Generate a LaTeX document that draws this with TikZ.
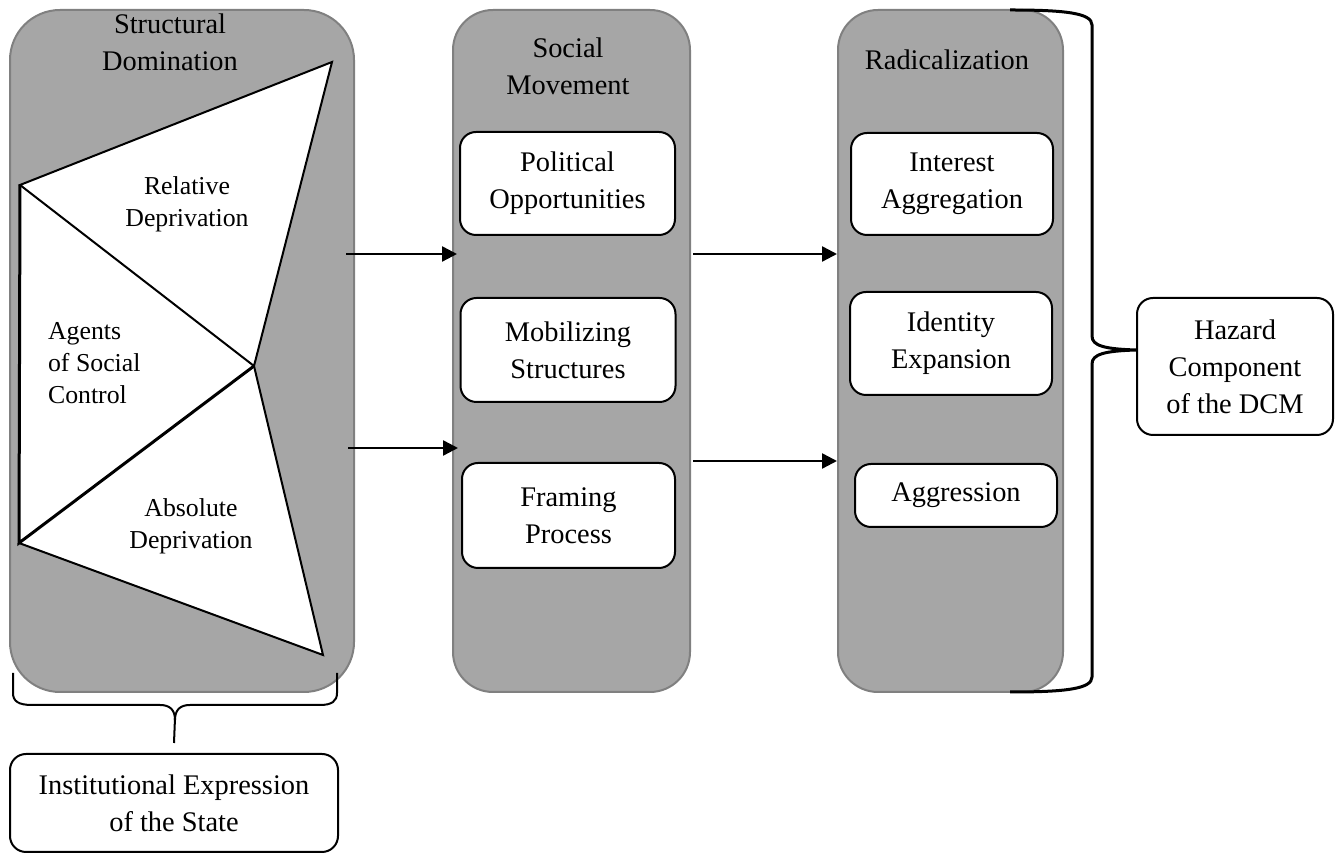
\documentclass[tikz,border=0pt]{standalone}
\usepackage{fontspec}
\setmainfont{Liberation Serif}
\usetikzlibrary{arrows.meta}
\definecolor{panelgray}{RGB}{166,166,166}
\definecolor{edgegray}{RGB}{128,128,128}

\begin{document}
\begin{tikzpicture}[x=0.5pt, y=-0.5pt,
  panel/.style={draw=edgegray, line width=1pt, fill=panelgray, rounded corners=20pt, inner sep=0pt},
  box/.style={draw, line width=1pt, fill=white, rounded corners=8pt, align=center, inner sep=0pt, font=\fontsize{14.2}{18.5}\selectfont},
  title/.style={align=center, font=\fontsize{14.2}{18.5}\selectfont},
  part/.style={align=center, font=\fontsize{12.9}{16}\selectfont},
  flow/.style={-{Triangle[length=7.5pt,width=7.5pt]}, line width=1.2pt},
  brace/.style={line width=1.5pt}]
\useasboundingbox (0,0) rectangle (1341,854);

% the three stages
\node[panel, rounded corners=25pt, minimum width=172pt, minimum height=341pt] (sd) at (182,351) {};
\node[panel, minimum width=118.5pt, minimum height=341pt] (sm) at (571.5,351) {};
\node[panel, minimum width=112.5pt, minimum height=341pt] (rd) at (950.5,351) {};

\node[title] (sdt) at (170,42) {Structural\\Domination};
\node[title] (smt) at (568,66) {Social\\Movement};
\node[title] (rdt) at (947,60) {Radicalization};

% deprivation wedges
\coordinate (ltop) at (20,185);
\coordinate (rtop) at (332,62);
\coordinate (mid) at (254,366);
\coordinate (rbot) at (323,655);
\coordinate (lbot) at (19,543);
\fill[white] (ltop) -- (rtop) -- (mid) -- (rbot) -- (lbot) -- cycle;
\draw[line width=1pt] (lbot) -- (rbot) -- (mid) -- (rtop) -- (ltop) -- (mid);
\draw[line width=1.5pt] (ltop) -- (lbot) -- (mid);
\node[part] (rel) at (187,204) {Relative\\Deprivation};
\node[part, align=left, anchor=west] (agt) at (41,363) {Agents\\of Social\\Control};
\node[part] (abs) at (191,526) {Absolute\\Deprivation};

\node[box, minimum width=107.5pt, minimum height=51.5pt] (pol) at (567.5,183.5) {Political\\Opportunities};
\node[box, minimum width=107.5pt, minimum height=52pt] (mob) at (568,350) {Mobilizing\\Structures};
\node[box, minimum width=106.5pt, minimum height=52.5pt] (frm) at (568.5,515.5) {Framing\\Process};

\node[box, minimum width=101pt, minimum height=51pt] (int) at (952,184) {Interest\\Aggregation};
\node[box, minimum width=101pt, minimum height=51.5pt] (idt) at (951,343.5) {Identity\\Expansion};
\node[box, minimum width=101pt, minimum height=31.5pt] (agg) at (956,495.5) {Aggression};

\node[box, minimum width=98pt, minimum height=68.5pt] (hz) at (1235,366.5) {Hazard\\Component\\of the DCM};
\node[box, minimum width=164pt, minimum height=49pt] (ie) at (174,803) {Institutional Expression\\of the State};

\coordinate (ya) at (0,254);
\coordinate (yb) at (0,448);
\coordinate (yc) at (0,461);
\draw[flow] ([xshift=-4.5pt]sd.east |- ya) -- ([xshift=2.5pt]sm.west |- ya);
\draw[flow] ([xshift=-3.5pt]sd.east |- yb) -- ([xshift=3pt]sm.west |- yb);
\draw[flow] ([xshift=1pt]sm.east |- ya) -- (rd.west |- ya);
\draw[flow] ([xshift=1pt]sm.east |- yc) -- (rd.west |- yc);

% braces
\coordinate (hy) at (0,350);
\coordinate (htip) at (hz.west |- hy);
\draw[brace] (1010,10) .. controls (1065,10) and (1092,13) .. (1092,25) -- (1092,336)
  .. controls (1092,346) and (1105,349) .. (htip)
  .. controls (1105,351) and (1092,354) .. (1092,364) -- (1092,677)
  .. controls (1092,689) and (1065,692) .. (1010,692);

\coordinate (itip) at ([yshift=5pt]ie.north);
\draw[line width=1pt] (13,673) -- (13,693) .. controls (13,701) and (18,705) .. (32,705) -- (160,705)
  .. controls (170,705) and (175,710) .. (175,720)
  .. controls (175,710) and (180,705) .. (190,705) -- (320,705)
  .. controls (332,705) and (337,701) .. (337,693) -- (337,673);
\draw[line width=1pt] (175,718) -- (itip);
\end{tikzpicture}
\end{document}
